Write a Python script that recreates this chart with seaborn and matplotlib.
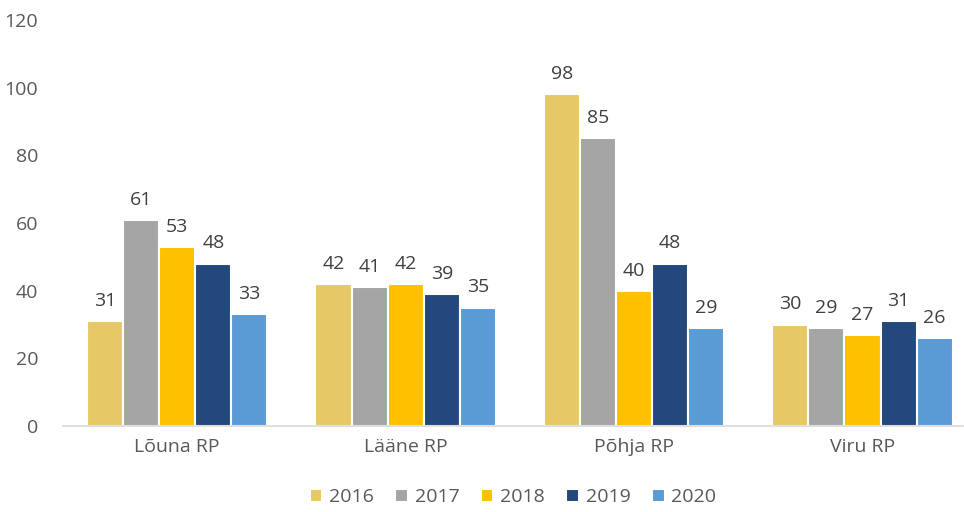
import pandas as pd
import seaborn as sns
import matplotlib.pyplot as plt

regions = ["Lõuna RP", "Lääne RP", "Põhja RP", "Viru RP"]
years = ["2016", "2017", "2018", "2019", "2020"]
values = {
    "2016": [31, 42, 98, 30],
    "2017": [61, 41, 85, 29],
    "2018": [53, 42, 40, 27],
    "2019": [48, 39, 48, 31],
    "2020": [33, 35, 29, 26],
}
colors = ["#E6C966", "#A5A5A5", "#FFC000", "#22487C", "#5B9BD5"]

records = []
for y in years:
    for r, v in zip(regions, values[y]):
        records.append({"Region": r, "Year": y, "Value": v})
df = pd.DataFrame(records)

sns.set_style("white")
plt.rcParams["font.family"] = ["Open Sans", "DejaVu Sans"]

fig = plt.figure(figsize=(9.64, 5.12), dpi=100)
ax = fig.add_axes([63 / 964, 1 - 426 / 512, 900 / 964, 406 / 512])

sns.barplot(
    data=df, x="Region", y="Value", hue="Year", order=regions, hue_order=years,
    palette=colors, saturation=1, width=0.79, edgecolor="white", linewidth=1.5,
    errorbar=None, ax=ax,
)

for c in ax.containers:
    ax.bar_label(c, padding=8, fontsize=14, color="#404040")

ax.set_ylim(0, 120)
ax.set_xlim(-0.5, 3.44)
ax.set_yticks(range(0, 121, 20))
ax.set_xlabel("")
ax.set_ylabel("")
ax.tick_params(axis="both", length=0, labelsize=14, labelcolor="#595959")
ax.tick_params(axis="y", pad=18)
ax.tick_params(axis="x", pad=9)
for s in ["top", "right", "left"]:
    ax.spines[s].set_visible(False)
ax.spines["bottom"].set_color("#D9D9D9")
ax.spines["bottom"].set_linewidth(1.2)

ax.legend(
    loc="center", bbox_to_anchor=(0.5, -0.175), ncol=5, frameon=False,
    fontsize=14, labelcolor="#595959", handlelength=0.65, handleheight=0.65,
    handletextpad=0.35, columnspacing=1.1,
)

fig.savefig("out.png", dpi=100)
